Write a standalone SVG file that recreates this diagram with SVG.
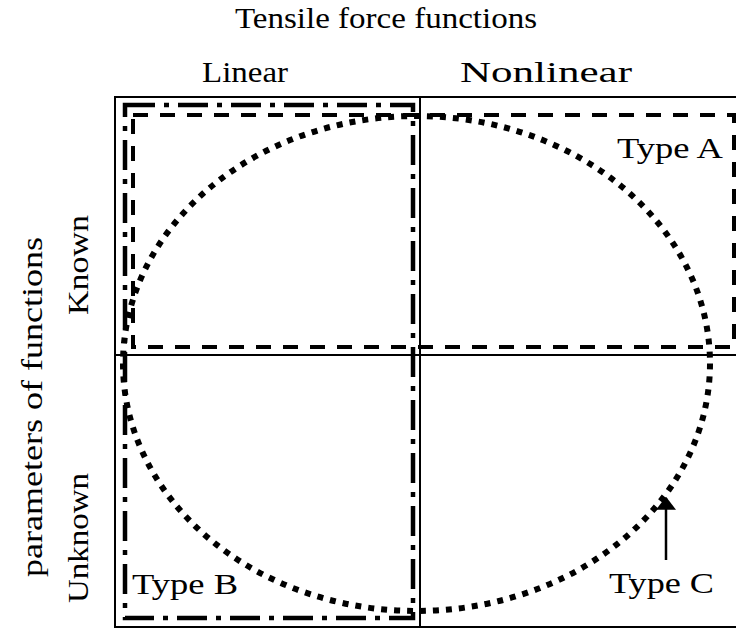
<svg xmlns="http://www.w3.org/2000/svg" width="736" height="628" viewBox="0 0 736 628">
  <style>
    text { font-family: "Liberation Serif", "DejaVu Serif", serif; font-size: 30px; fill: #000; }
    .grid { fill: none; stroke: #000; stroke-width: 2; }
    .typeA { fill: none; stroke: #000; stroke-width: 4; stroke-dasharray: 15 12; }
    .typeB { fill: none; stroke: #000; stroke-width: 4.5; stroke-dasharray: 30 9 5 9; }
    .typeC { fill: none; stroke: #000; stroke-width: 6; stroke-dasharray: 6 7; }
    .arrow { fill: none; stroke: #000; stroke-width: 2.5; }
  </style>
  <defs>
    <marker id="head" viewBox="0 0 10 10" refX="9" refY="5" markerUnits="userSpaceOnUse" markerWidth="13" markerHeight="20" orient="auto" preserveAspectRatio="none">
      <path d="M0,0 L10,5 L0,10 z" fill="#000"/>
    </marker>
  </defs>
  <rect width="736" height="628" fill="#fff"/>

  <g id="labels">
    <text x="235" y="28" textLength="302" lengthAdjust="spacingAndGlyphs">Tensile force functions</text>
    <text x="202" y="82" textLength="86" lengthAdjust="spacingAndGlyphs">Linear</text>
    <text x="460" y="82" textLength="172" lengthAdjust="spacingAndGlyphs">Nonlinear</text>
    <text transform="translate(42,577) rotate(-90)" textLength="340" lengthAdjust="spacingAndGlyphs">parameters of functions</text>
    <text transform="translate(88,315) rotate(-90)" textLength="100" lengthAdjust="spacingAndGlyphs">Known</text>
    <text transform="translate(88,603) rotate(-90)" textLength="130" lengthAdjust="spacingAndGlyphs">Unknown</text>
  </g>

  <g id="grid">
    <rect class="grid" x="115" y="97" width="622" height="530"/>
    <line class="grid" x1="420" y1="97" x2="420" y2="627"/>
    <line class="grid" x1="115" y1="355" x2="737" y2="355"/>
  </g>

  <g id="typeA">
    <rect class="typeA" x="133" y="115" width="601" height="232"/>
    <text x="617" y="158" textLength="106" lengthAdjust="spacingAndGlyphs">Type A</text>
  </g>

  <g id="typeB">
    <rect class="typeB" x="125" y="105" width="288" height="513"/>
    <text x="132" y="594" textLength="106" lengthAdjust="spacingAndGlyphs">Type B</text>
  </g>

  <g id="typeC">
    <ellipse class="typeC" cx="416.5" cy="363.5" rx="293.5" ry="247.5"/>
    <text x="609" y="593" textLength="105" lengthAdjust="spacingAndGlyphs">Type C</text>
  </g>

  <g id="connectors">
    <line class="arrow" x1="666" y1="560" x2="666" y2="498" marker-end="url(#head)"/>
  </g>
</svg>
